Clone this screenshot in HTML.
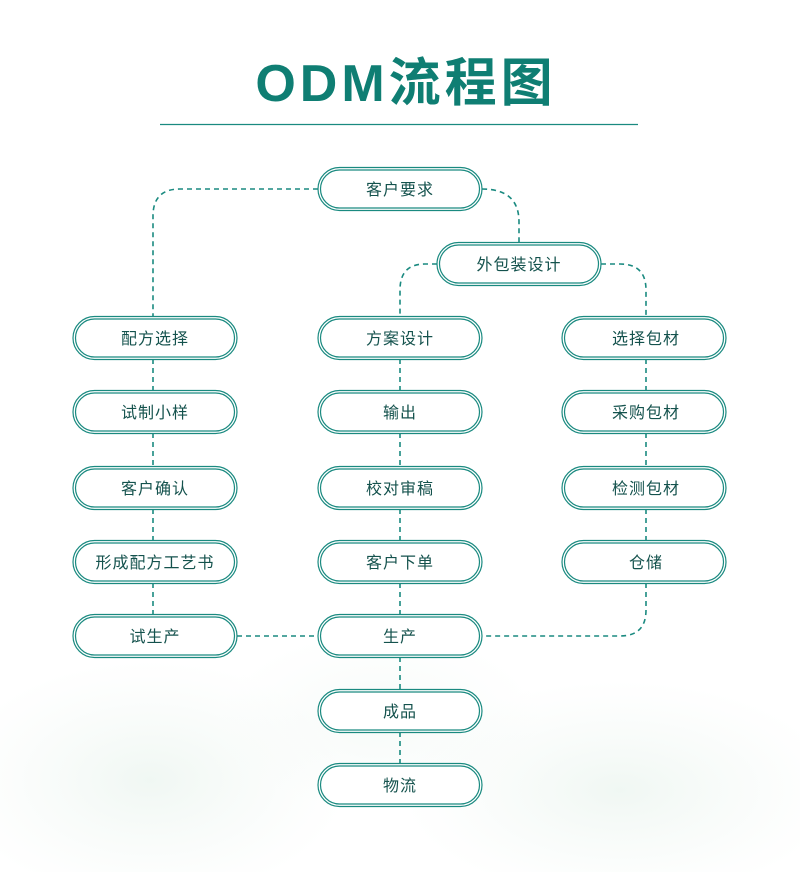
<!DOCTYPE html>
<html><head><meta charset="utf-8"><style>
body{margin:0;background:#fff}
svg{display:block}
text{font-family:"Liberation Sans","Noto Sans CJK SC",sans-serif}
</style></head><body>
<svg width="800" height="872" viewBox="0 0 800 872" xmlns="http://www.w3.org/2000/svg">
<defs>
<radialGradient id="g1" cx="0.5" cy="0.5" r="0.5"><stop offset="0" stop-color="#e6f2eb" stop-opacity="0.6"/><stop offset="1" stop-color="#eef6f1" stop-opacity="0"/></radialGradient>
</defs>
<rect width="800" height="872" fill="#fff"/>
<ellipse cx="150" cy="780" rx="200" ry="120" fill="url(#g1)"/>
<ellipse cx="620" cy="790" rx="220" ry="110" fill="url(#g1)"/>
<ellipse cx="380" cy="720" rx="160" ry="90" fill="url(#g1)" opacity="0.6"/>
<text x="406" y="101" text-anchor="middle" font-size="52" font-weight="bold" fill="#0f7e73" letter-spacing="4">ODM流程图</text>
<line x1="160" y1="124.5" x2="638" y2="124.5" stroke="#1a8a80" stroke-width="1.2"/>
<g fill="none" stroke="#1a8a80" stroke-width="1.6" stroke-dasharray="5,4">
<path d="M318 189 H180 Q153 189 153 216 V317"/>
<path d="M482 189 Q519 189 519 222 V243"/>
<path d="M437 264 H425 Q400 264 400 290 V317"/>
<path d="M601 264 H620 Q646 264 646 290 V317"/>
<path d="M153 359 V391 M153 433 V467 M153 509 V541 M153 583 V615"/>
<path d="M400 359 V391 M400 433 V467 M400 509 V541 M400 583 V615 M400 657 V690 M400 732 V764"/>
<path d="M646 359 V391 M646 433 V467 M646 509 V541 M646 583 V610 Q646 636 620 636 H482"/>
<path d="M237 636 H318"/>
</g>
<g fill="#fff" stroke="#1a8a80" stroke-width="1.2">
<rect x="318" y="167.5" width="164" height="43" rx="21.5"/><rect x="320.5" y="170" width="159" height="38" rx="19"/>
<rect x="437" y="242.5" width="164" height="43" rx="21.5"/><rect x="439.5" y="245" width="159" height="38" rx="19"/>
<rect x="73" y="316.5" width="164" height="43" rx="21.5"/><rect x="75.5" y="319" width="159" height="38" rx="19"/>
<rect x="318" y="316.5" width="164" height="43" rx="21.5"/><rect x="320.5" y="319" width="159" height="38" rx="19"/>
<rect x="562" y="316.5" width="164" height="43" rx="21.5"/><rect x="564.5" y="319" width="159" height="38" rx="19"/>
<rect x="73" y="390.5" width="164" height="43" rx="21.5"/><rect x="75.5" y="393" width="159" height="38" rx="19"/>
<rect x="318" y="390.5" width="164" height="43" rx="21.5"/><rect x="320.5" y="393" width="159" height="38" rx="19"/>
<rect x="562" y="390.5" width="164" height="43" rx="21.5"/><rect x="564.5" y="393" width="159" height="38" rx="19"/>
<rect x="73" y="466.5" width="164" height="43" rx="21.5"/><rect x="75.5" y="469" width="159" height="38" rx="19"/>
<rect x="318" y="466.5" width="164" height="43" rx="21.5"/><rect x="320.5" y="469" width="159" height="38" rx="19"/>
<rect x="562" y="466.5" width="164" height="43" rx="21.5"/><rect x="564.5" y="469" width="159" height="38" rx="19"/>
<rect x="73" y="540.5" width="164" height="43" rx="21.5"/><rect x="75.5" y="543" width="159" height="38" rx="19"/>
<rect x="318" y="540.5" width="164" height="43" rx="21.5"/><rect x="320.5" y="543" width="159" height="38" rx="19"/>
<rect x="562" y="540.5" width="164" height="43" rx="21.5"/><rect x="564.5" y="543" width="159" height="38" rx="19"/>
<rect x="73" y="614.5" width="164" height="43" rx="21.5"/><rect x="75.5" y="617" width="159" height="38" rx="19"/>
<rect x="318" y="614.5" width="164" height="43" rx="21.5"/><rect x="320.5" y="617" width="159" height="38" rx="19"/>
<rect x="318" y="689.5" width="164" height="43" rx="21.5"/><rect x="320.5" y="692" width="159" height="38" rx="19"/>
<rect x="318" y="763.5" width="164" height="43" rx="21.5"/><rect x="320.5" y="766" width="159" height="38" rx="19"/>
</g>
<g font-size="16" fill="#14524d" text-anchor="middle" letter-spacing="1">
<text x="400" y="195">客户要求</text>
<text x="519" y="270">外包装设计</text>
<text x="155" y="344">配方选择</text><text x="400" y="344">方案设计</text><text x="646" y="344">选择包材</text>
<text x="155" y="418">试制小样</text><text x="400" y="418">输出</text><text x="646" y="418">采购包材</text>
<text x="155" y="494">客户确认</text><text x="400" y="494">校对审稿</text><text x="646" y="494">检测包材</text>
<text x="155" y="568">形成配方工艺书</text><text x="400" y="568">客户下单</text><text x="646" y="568">仓储</text>
<text x="155" y="642">试生产</text><text x="400" y="642">生产</text>
<text x="400" y="717">成品</text>
<text x="400" y="791">物流</text>
</g>
</svg>
</body></html>
